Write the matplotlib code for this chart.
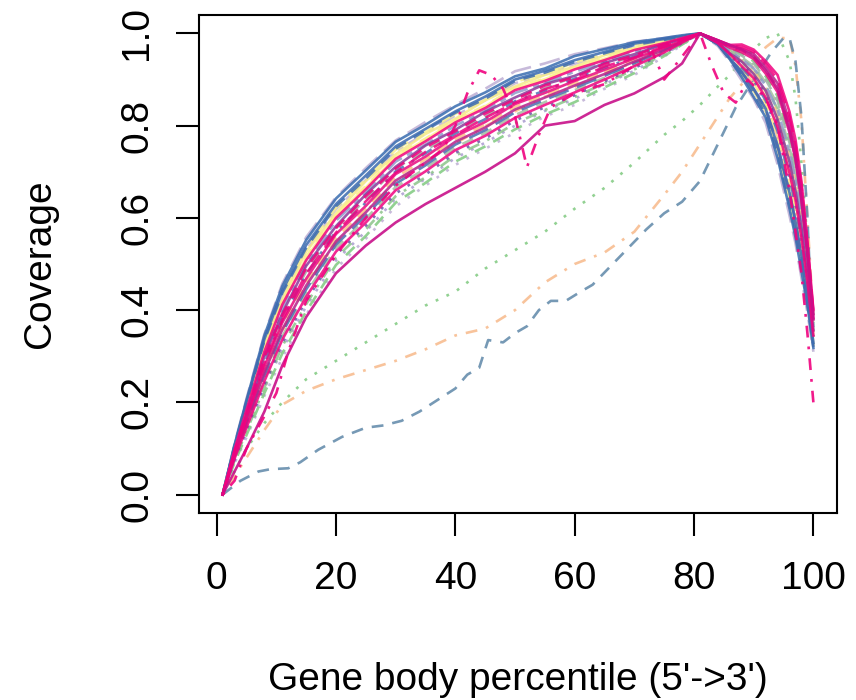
import matplotlib
matplotlib.use('Agg')
import matplotlib.pyplot as plt

plt.rcParams['font.family'] = ['Liberation Sans', 'DejaVu Sans']
plt.rcParams['lines.scale_dashes'] = False

# ---------------- data ----------------
pct = [1, 3, 5, 8, 11, 15, 20, 25, 30, 35, 40, 45, 50, 55, 60, 65, 70, 75, 78,
       81, 84, 86, 88, 90, 92, 94, 96, 97, 98, 99, 100]

s01 = [0, .108, .205, .345, .452, .552, .642, .703, .765, .802, .842, .872, .907, .924, .951, .966, .981, .99, .996,
       1.0, .976, .944, .905, .862, .818, .73, .62, .558, .485, .41, .318]
s02 = [0, .11, .208, .348, .457, .558, .645, .708, .768, .808, .845, .88, .918, .935, .955, .968, .982, .99, .996,
       1.0, .973, .938, .898, .858, .806, .716, .605, .545, .47, .395, .31]
s03 = [0, .105, .199, .334, .437, .535, .625, .685, .75, .79, .828, .858, .897, .915, .938, .957, .975, .986, .993,
       1.0, .977, .943, .91, .87, .825, .74, .63, .57, .50, .415, .32]
s04 = [0, .102, .192, .326, .423, .527, .61, .68, .738, .782, .815, .855, .885, .91, .928, .953, .968, .985, .992,
       1.0, .977, .945, .912, .875, .832, .75, .642, .585, .505, .425, .325]
s05 = [0, .10, .189, .316, .418, .516, .608, .669, .735, .772, .813, .843, .883, .902, .927, .946, .967, .981, .991,
       1.0, .978, .951, .922, .893, .848, .778, .675, .618, .536, .446, .338]
s06 = [0, .098, .184, .31, .412, .508, .60, .662, .728, .766, .807, .838, .877, .897, .922, .942, .964, .979, .99,
       1.0, .979, .955, .929, .903, .861, .797, .697, .64, .556, .461, .345]
s07 = [0, .096, .181, .304, .403, .50, .594, .655, .722, .759, .80, .832, .871, .892, .917, .938, .96, .977, .989,
       1.0, .981, .962, .944, .924, .887, .835, .741, .683, .597, .491, .363]
s08 = [0, .094, .175, .30, .393, .496, .582, .651, .711, .757, .791, .83, .861, .89, .908, .936, .955, .977, .988,
       1.0, .98, .957, .939, .912, .876, .814, .721, .659, .579, .474, .356]
s09 = [0, .092, .171, .293, .388, .484, .578, .64, .708, .746, .789, .82, .859, .881, .907, .929, .953, .973, .987,
       1.0, .982, .966, .952, .935, .90, .854, .763, .705, .618, .506, .372]
s10 = [0, .09, .169, .284, .381, .477, .571, .633, .701, .74, .783, .814, .853, .876, .902, .925, .95, .971, .986,
       1.0, .979, .953, .925, .898, .855, .788, .686, .628, .546, .452, .343]
s11 = [0, .088, .165, .278, .373, .468, .565, .626, .695, .733, .777, .808, .847, .871, .897, .921, .946, .969, .985,
       1.0, .983, .969, .959, .945, .913, .873, .785, .727, .638, .521, .383]
s12 = [0, .086, .161, .272, .366, .461, .556, .619, .688, .727, .771, .802, .841, .866, .892, .916, .943, .967, .984,
       1.0, .981, .96, .94, .919, .881, .826, .73, .672, .587, .484, .359]
s13 = [0, .084, .157, .265, .358, .453, .549, .612, .681, .72, .765, .796, .835, .861, .887, .912, .939, .965, .983,
       1.0, .984, .973, .967, .956, .926, .892, .807, .749, .659, .536, .392]
s14 = [0, .082, .153, .259, .351, .445, .542, .605, .674, .714, .759, .79, .829, .856, .882, .908, .936, .963, .982,
       1.0, .977, .946, .916, .88, .837, .757, .655, .593, .517, .429, .328]
s15 = [0, .08, .149, .252, .343, .437, .535, .598, .667, .707, .753, .784, .823, .851, .877, .904, .932, .961, .981,
       1.0, .982, .964, .948, .929, .894, .845, .752, .694, .607, .499, .368]
s16 = [0, .078, .145, .246, .336, .429, .527, .59, .66, .701, .747, .778, .817, .845, .872, .90, .929, .959, .98,
       1.0, .985, .975, .976, .965, .94, .91, .83, .77, .68, .55, .40]
s17 = [0, .076, .141, .239, .328, .421, .52, .583, .653, .694, .741, .772, .811, .84, .866, .896, .925, .957, .979,
       1.0, .98, .955, .933, .908, .868, .807, .708, .65, .566, .469, .35]
s18 = [0, .073, .135, .23, .316, .408, .508, .571, .642, .685, .73, .763, .80, .832, .858, .89, .919, .955, .977,
       1.0, .978, .949, .918, .887, .842, .769, .664, .606, .525, .439, .333]
s19 = [0, .07, .129, .22, .306, .397, .498, .561, .633, .676, .722, .755, .792, .824, .851, .883, .914, .951, .976,
       1.0, .983, .967, .955, .94, .907, .864, .774, .716, .628, .514, .378]
s20 = [0, .068, .124, .214, .297, .39, .49, .555, .625, .67, .715, .75, .785, .82, .845, .88, .91, .95, .975,
       1.0, .976, .944, .908, .871, .823, .739, .632, .572, .495, .415, .319]
s21 = [0, .104, .197, .33, .434, .533, .622, .684, .748, .786, .826, .856, .895, .913, .937, .955, .974, .985, .993,
       1.0, .98, .957, .936, .915, .873, .817, .718, .662, .576, .477, .353]
s22 = [0, .093, .173, .297, .389, .491, .578, .647, .707, .753, .788, .826, .857, .887, .905, .934, .952, .976, .987,
       1.0, .984, .97, .964, .949, .92, .882, .797, .737, .649, .528, .387]
s23 = [0, .074, .137, .232, .322, .413, .514, .575, .647, .688, .735, .766, .805, .834, .862, .892, .922, .955, .978,
       1.0, .981, .962, .944, .925, .886, .836, .74, .684, .596, .492, .362]
s24 = [0, .106, .201, .337, .442, .541, .63, .692, .755, .793, .831, .863, .90, .919, .942, .96, .978, .988, .994,
       1.0, .977, .946, .916, .879, .837, .756, .655, .592, .517, .428, .329]
s25 = [0, .099, .187, .314, .415, .513, .605, .666, .732, .77, .811, .842, .88, .901, .925, .945, .966, .98, .991,
       1.0, .979, .955, .928, .903, .86, .798, .696, .64, .555, .462, .345]
s26 = [0, .085, .155, .267, .355, .455, .546, .614, .677, .723, .761, .799, .831, .863, .884, .915, .937, .966, .983,
       1.0, .978, .951, .922, .893, .85, .776, .677, .615, .538, .444, .338]
s27 = [0, .091, .167, .286, .379, .479, .568, .636, .698, .743, .78, .817, .85, .879, .899, .928, .948, .972, .986,
       1.0, .985, .973, .971, .96, .934, .90, .819, .759, .67, .543, .396]
s28 = [0, .103, .195, .327, .43, .53, .619, .682, .745, .783, .822, .855, .892, .911, .934, .954, .973, .985, .993,
       1.0, .977, .945, .911, .876, .83, .749, .643, .583, .506, .423, .324]

# outlying samples
low_magenta = [0, .05, .10, .18, .28, .385, .48, .54, .59, .63, .665, .70, .74, .80, .81, .845, .87, .905, .935,
               1.0, .985, .975, .965, .95, .92, .88, .79, .73, .64, .52, .38]
green_dot = [0, .05, .10, .155, .20, .25, .29, .33, .37, .41, .44, .49, .53, .57, .62, .665, .72, .78, .81,
             .845, .885, .91, .94, .965, .99, 1.0, .94, .86, .72, .55, .38]
peach_dd = [0, .04, .08, .14, .195, .225, .25, .27, .29, .315, .345, .36, .40, .46, .50, .525, .57, .65, .70,
            .76, .82, .86, .89, .93, .97, .99, .99, .93, .81, .60, .38]

steel_pct = [1, 4, 7, 9, 12, 14, 17, 21, 25, 28, 31, 34, 37, 40, 42, 44, 45.5, 48, 50, 52, 54, 56, 58.5,
             61, 63, 66, 69, 72, 75, 78, 81, 84, 87, 89, 91, 93, 95, 96, 97, 98, 99, 100]
steel_dash = [0, .03, .05, .055, .057, .07, .097, .125, .145, .15, .16, .18, .205, .23, .26, .275, .335, .33,
              .35, .365, .40, .42, .42, .44, .455, .495, .535, .575, .61, .635, .68, .76, .84, .88, .92, .96,
              .99, .99, .94, .82, .60, .31]

noisy_pct = [1, 3, 5, 8, 10, 12, 15, 20, 25, 30, 35, 38, 40, 42, 44, 46, 48, 50, 52, 54, 56, 60, 65, 70,
             73, 75, 78, 81, 83, 85, 87, 89, 92, 94, 96, 98, 99, 100]
noisy_magenta = [0, .03, .10, .17, .22, .31, .42, .52, .60, .67, .72, .75, .80, .87, .92, .91, .88, .82, .71,
                 .78, .84, .87, .89, .93, .96, .90, .95, 1.0, .93, .87, .85, .90, .86, .80, .66, .48, .35, .20]

xtick_vals = [0, 20, 40, 60, 80, 100]
ytick_vals = [0.0, 0.2, 0.4, 0.6, 0.8, 1.0]
ytick_text = ['0.0', '0.2', '0.4', '0.6', '0.8', '1.0']

# ---------------- styles ----------------
DASH = {
    'solid': '-',
    'dashed': (0, (8.5, 6.5)),
    'dotted': (0, (2.0, 6.5)),
    'dotdash': (0, (2.0, 6.5, 8.5, 6.5)),
    'longdash': (0, (15, 6.5)),
    'twodash': (0, (4.3, 4.3, 13, 4.3)),
}

bundle = [
    (s20, '#BEAED4', 'dotted'),
    (s18, '#A99BCF', 'dotted'),
    (s19, '#7FC97F', 'dashed'),
    (s23, '#8CC48A', 'dotdash'),
    (s15, '#A3BFA0', 'dashed'),
    (s09, '#9BB5A3', 'dashed'),
    (s12, '#FDC086', 'dashed'),
    (s26, '#FDC086', 'dotdash'),
    (s02, '#BEAED4', 'longdash'),
    (s28, '#C4B4D8', 'twodash'),
    (s04, '#F5EC8A', 'solid'),
    (s05, '#FBE98E', 'dashed'),
    (s21, '#F6EE90', 'longdash'),
    (s25, '#FFF08F', 'solid'),
    (s01, '#386CB0', 'solid'),
    (s24, '#3A6AB0', 'solid'),
    (s03, '#3E6CB0', 'dashed'),
    (s14, '#4A6CB0', 'longdash'),
    (s10, '#4F72B3', 'dotdash'),
    (s07, '#8E9CCB', 'twodash'),
    (s17, '#6E55A5', 'dotted'),
    (s08, '#8B3A9A', 'solid'),
    (s13, '#B5208A', 'solid'),
    (s06, '#F0027F', 'solid'),
    (s11, '#E8097F', 'solid'),
    (s22, '#F0027F', 'dashed'),
    (s27, '#F0027F', 'longdash'),
    (s16, '#F0027F', 'solid'),
]

# ---------------- figure ----------------
fig = plt.figure(figsize=(8.56, 7.0), dpi=100)
ax = fig.add_axes([199 / 856, 187 / 700, 638 / 856, 498 / 700])

lw = 1.9
ax.plot(pct, green_dot, color='#7FC97F', lw=lw, linestyle=DASH['dotted'], alpha=0.85)
ax.plot(pct, peach_dd, color='#F7B98A', lw=lw, linestyle=DASH['dotdash'], alpha=0.85)
ax.plot(steel_pct, steel_dash, color='#5E87A8', lw=lw, linestyle=DASH['dashed'], alpha=0.85)
for vals, col, ls in bundle:
    ax.plot(pct, vals, color=col, lw=lw, linestyle=DASH[ls], alpha=0.85)
ax.plot(pct, low_magenta, color='#C8108A', lw=lw, linestyle='-', alpha=0.9)
ax.plot(noisy_pct, noisy_magenta, color='#F0027F', lw=lw, linestyle=DASH['dotdash'], alpha=0.9)

ax.set_xlim(-2.96, 103.96)
ax.set_ylim(-0.04, 1.04)
ax.set_xticks(xtick_vals)
ax.set_xticklabels([str(v) for v in xtick_vals])
ax.set_yticks(ytick_vals)
ax.set_yticklabels(ytick_text, rotation=90, va='center')
ax.tick_params(axis='both', length=16.5, width=1.5, labelsize=28, direction='out', color='black')
ax.tick_params(axis='x', pad=18)
ax.tick_params(axis='y', pad=15)
for sp in ax.spines.values():
    sp.set_linewidth(1.5)
    sp.set_color('black')

fig.text(518 / 856, 10 / 700, "Gene body percentile (5'->3')", ha='center', va='baseline', fontsize=28)
fig.text(40 / 856, 1 - 264 / 700, 'Coverage', rotation=90, ha='center', va='center', fontsize=28)

fig.savefig('out.png', dpi=100)
